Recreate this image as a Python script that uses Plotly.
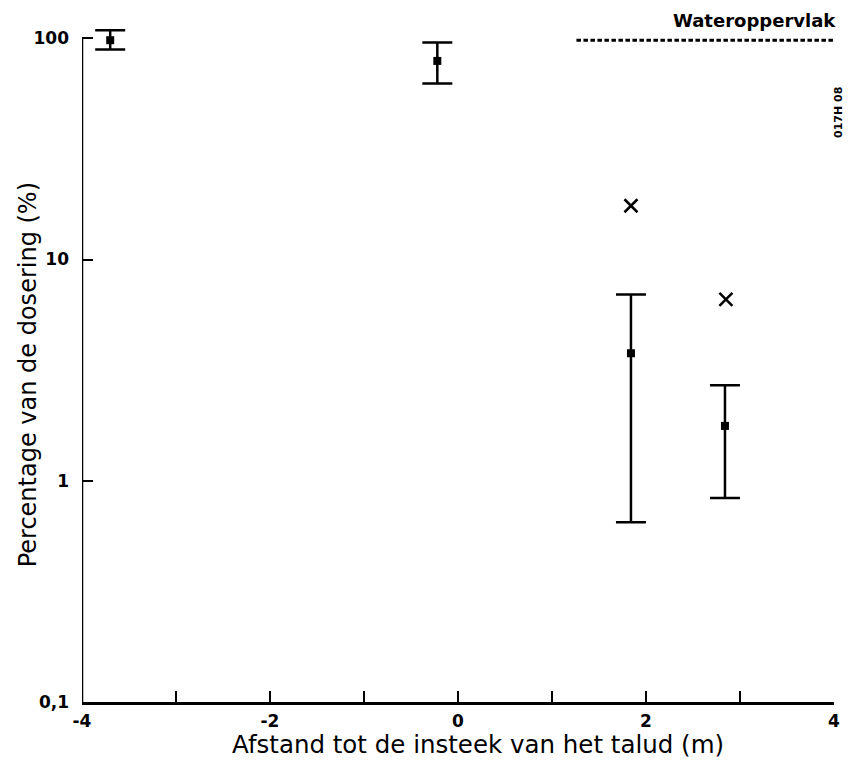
import plotly.graph_objects as go

# Data
x_pos = [-3.70, -0.22, 1.84, 2.84]
mean_pct = [98, 79, 3.77, 1.77]
upper_pct = [108.7, 95.6, 6.95, 2.70]
lower_pct = [89.0, 62.4, 0.65, 0.835]

x_cross = [1.84, 2.85]
y_cross = [17.5, 6.6]

water_x = [1.26, 4.0]
water_y = [98, 98]

x_ticks = [-4, -3, -2, -1, 0, 1, 2, 3, 4]
x_ticktext = ["-4", "", "-2", "", "0", "", "2", "", "4"]
y_ticks = [0.1, 1, 10, 100]
y_ticktext = ["0,1", "1", "10", "100"]

FONT = "DejaVu Sans"

err_plus = [u - m for u, m in zip(upper_pct, mean_pct)]
err_minus = [m - l for m, l in zip(mean_pct, lower_pct)]

fig = go.Figure()

fig.add_trace(go.Scatter(
    x=x_pos, y=mean_pct, mode="markers",
    marker=dict(symbol="square", size=8, color="black"),
    error_y=dict(type="data", symmetric=False, array=err_plus, arrayminus=err_minus,
                 color="black", thickness=2.5, width=15),
    cliponaxis=False, showlegend=False,
))

fig.add_trace(go.Scatter(
    x=x_cross, y=y_cross, mode="markers",
    marker=dict(symbol="x-thin", size=13, line=dict(color="black", width=2.5)),
    cliponaxis=False, showlegend=False,
))

fig.add_trace(go.Scatter(
    x=water_x, y=water_y, mode="lines",
    line=dict(color="black", width=3, dash="4.5px,2.5px"),
    cliponaxis=False, showlegend=False,
))

# left spine only up to 100 (plot area extends a little higher for the top error bar)
fig.add_shape(type="line", xref="x", yref="y", x0=-4, x1=-4, y0=0.1, y1=100,
              line=dict(color="black", width=2.5), layer="above")

fig.update_layout(
    width=852, height=761,
    margin=dict(l=82, r=14, t=25, b=59),
    plot_bgcolor="white", paper_bgcolor="white",
    font=dict(family=FONT, color="black", size=18),
    xaxis=dict(
        range=[-4, 4], tickvals=x_ticks, ticktext=x_ticktext,
        ticks="inside", ticklen=11, tickwidth=2, tickcolor="black",
        showline=True, linecolor="black", linewidth=2.5,
        showgrid=False, zeroline=False, ticklabelstandoff=2,
        tickfont=dict(family=FONT, size=17, color="black", weight="bold"),
    ),
    yaxis=dict(
        type="log", range=[-1, 2.06], tickvals=y_ticks, ticktext=y_ticktext,
        ticks="inside", ticklen=11, tickwidth=2, tickcolor="black",
        showline=False, showgrid=False, zeroline=False, ticklabelstandoff=12,
        tickfont=dict(family=FONT, size=17, color="black", weight="bold"),
    ),
    annotations=[
        dict(text="Afstand tot de insteek van het talud (m)", xref="paper", yref="paper",
             x=0.526, y=-0.0635, xanchor="center", yanchor="middle", showarrow=False,
             font=dict(family=FONT, size=24.5, color="black")),
        dict(text="Percentage van de dosering (%)", xref="paper", yref="paper",
             x=-0.0714, y=0.483, xanchor="center", yanchor="middle", showarrow=False,
             textangle=-90, font=dict(family=FONT, size=24, color="black")),
        dict(text="<b>Wateroppervlak</b>", xref="paper", yref="paper",
             x=1.0, y=1.006, xanchor="right", yanchor="middle", showarrow=False,
             xshift=4, font=dict(family=FONT, size=18, color="black")),
        dict(text="<b>017H 08</b>", xref="paper", yref="paper",
             x=1.0066, y=0.8715, xanchor="center", yanchor="middle", showarrow=False,
             textangle=-90, font=dict(family=FONT, size=11, color="black")),
    ],
)

fig.write_html("out.html")
